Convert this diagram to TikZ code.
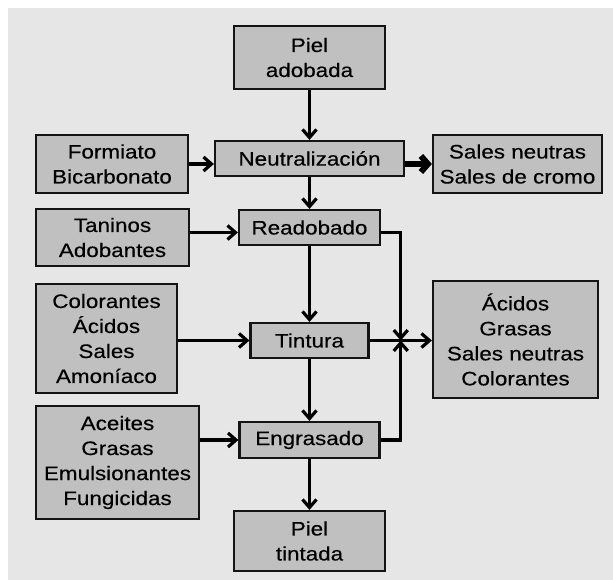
\documentclass[tikz,border=0pt]{standalone}
\usepackage{fontspec}
\setmainfont{Liberation Sans}[FakeStretch=1.15,FakeBold=0.4]
\usetikzlibrary{arrows.meta,calc}

\definecolor{panel}{RGB}{230,230,230}
\definecolor{boxfill}{RGB}{192,192,192}
\definecolor{edge}{RGB}{20,20,20}

\tikzset{
  stage/.style={draw=edge, fill=boxfill, line width=2.2pt, inner sep=0pt,
    align=center, font=\fontsize{19.5}{25}\selectfont},
  flow/.style={draw=black, line width=3.2pt,
    -{Straight Barb[length=8pt,width=14pt]}},
  heavyflow/.style={flow, line width=6pt,
    -{Straight Barb[length=7pt,width=16pt]}},
  link/.style={draw=black, line width=3.2pt}
}

\begin{document}
\begin{tikzpicture}[x=1pt, y=-1pt]
  \useasboundingbox (0,0) rectangle (613,580);
  \fill[panel] (8,8) rectangle (613,580);

  % main process column
  \node[stage, minimum width=151pt, minimum height=63pt] (pa) at (309.5,57.5) {Piel\\adobada};
  \node[stage, minimum width=189pt, minimum height=35pt] (ne) at (309.5,158.5) {Neutralización};
  \node[stage, minimum width=141pt, minimum height=35pt] (rd) at (309.5,227.5) {Readobado};
  \node[stage, minimum width=118pt, minimum height=35pt] (tt) at (309.5,340.5) {Tintura};
  \node[stage, minimum width=140pt, minimum height=36pt] (en) at (309.5,440) {Engrasado};
  \node[stage, minimum width=151pt, minimum height=60pt] (pt) at (309.5,541) {Piel\\tintada};

  % inputs
  \node[stage, minimum width=152pt, minimum height=58pt] (fb) at (112,164) {Formiato\\Bicarbonato};
  \node[stage, minimum width=153pt, minimum height=57pt] (tn) at (112.5,237.5) {Taninos\\Adobantes};
  \node[stage, minimum width=141pt, minimum height=109pt] (cl) at (106.5,338.5) {Colorantes\\Ácidos\\Sales\\Amoníaco};
  \node[stage, minimum width=163pt, minimum height=113pt] (ac) at (117.5,462.5) {Aceites\\Grasas\\Emulsionantes\\Fungicidas};

  % outputs
  \node[stage, minimum width=169pt, minimum height=58pt] (sn) at (517.5,164) {Sales neutras\\Sales de cromo};
  \node[stage, minimum width=165pt, minimum height=117pt] (ab) at (515.5,339.5) {Ácidos\\Grasas\\Sales neutras\\Colorantes};

  % helper points
  \coordinate (rdin) at ([yshift=-5pt]rd.west);
  \coordinate (rdout) at ([yshift=-5pt]rd.east);
  \coordinate (j) at ($(tt.east)!0.5!(tt.east -| ab.west)$);

  % vertical sequence
  \draw[flow] (pa) -- (ne);
  \draw[flow] (ne) -- (rd);
  \draw[flow] (rd) -- (tt);
  \draw[flow] (tt) -- (en);
  \draw[flow] (en) -- (pt);

  % inputs into stages
  \draw[flow] (fb.east) -- (fb.east -| ne.west);
  \draw[flow] (rdin -| tn.east) -- (rdin);
  \draw[flow] (cl.east |- tt.west) -- (tt.west);
  \draw[flow] (ac.east |- en.west) -- (en.west);

  % outputs
  \draw[heavyflow] (sn.west -| ne.east) -- (sn.west);
  \draw[flow] (tt.east) -- (tt.east -| ab.west);
  \draw[flow] (rdout) -| (j);
  \draw[flow] (en.east) -| (j);
\end{tikzpicture}
\end{document}
